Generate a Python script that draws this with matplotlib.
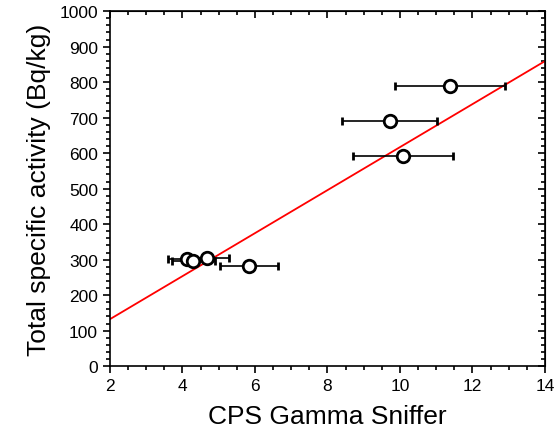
import numpy as np
from matplotlib import pyplot as plt
from matplotlib.ticker import MultipleLocator

plt.rcParams['font.family'] = ['Liberation Sans', 'DejaVu Sans']

# data
cps = [11.38, 9.72, 10.08, 5.84, 4.12, 4.30, 4.67]
cps_err = [1.53, 1.31, 1.37, 0.80, 0.53, 0.60, 0.61]
activity = [789, 692, 592, 282, 302, 295, 305]
activity_err = [12, 6, 6, 6, 6, 6, 6]
fit_slope = 60.6
fit_intercept = 11.0

fig = plt.figure(figsize=(5.55, 4.35), dpi=100)
ax = fig.add_axes([0.198, 0.156, 0.784, 0.816])

xf = np.array([2, 14])
ax.plot(xf, fit_slope * xf + fit_intercept, color='red', lw=1.3, zorder=2)
ax.errorbar(cps, activity, xerr=cps_err, yerr=activity_err, fmt='o', ms=9,
            mfc='white', mec='black', mew=2, ecolor='black', elinewidth=1.2,
            capsize=3, capthick=1.2, zorder=3)

ax.set_xlim(2, 14)
ax.set_ylim(0, 1000)
ax.xaxis.set_major_locator(MultipleLocator(2))
ax.xaxis.set_minor_locator(MultipleLocator(0.5))
ax.yaxis.set_major_locator(MultipleLocator(100))
ax.yaxis.set_minor_locator(MultipleLocator(20))
ax.tick_params(which='both', direction='out', top=False, right=False, labelsize=12.5, width=1.2)
ax.tick_params(which='major', length=5)
ax.tick_params(which='minor', length=3)

# inward ticks on top and right like the original
axt = ax.secondary_xaxis('top')
axt.xaxis.set_major_locator(MultipleLocator(2))
axt.xaxis.set_minor_locator(MultipleLocator(0.5))
axt.tick_params(which='both', direction='in', labeltop=False, width=1.2)
axt.tick_params(which='major', length=5)
axt.tick_params(which='minor', length=3)
axr = ax.secondary_yaxis('right')
axr.yaxis.set_major_locator(MultipleLocator(100))
axr.yaxis.set_minor_locator(MultipleLocator(20))
axr.tick_params(which='both', direction='in', labelright=False, width=1.2)
axr.tick_params(which='major', length=5)
axr.tick_params(which='minor', length=3)

for s in ax.spines.values():
    s.set_linewidth(1.2)

ax.set_xlabel('CPS Gamma Sniffer', fontsize=19, labelpad=8)
ax.set_ylabel('Total specific activity (Bq/kg)', fontsize=19, labelpad=6)

plt.savefig('out.png', dpi=100)
